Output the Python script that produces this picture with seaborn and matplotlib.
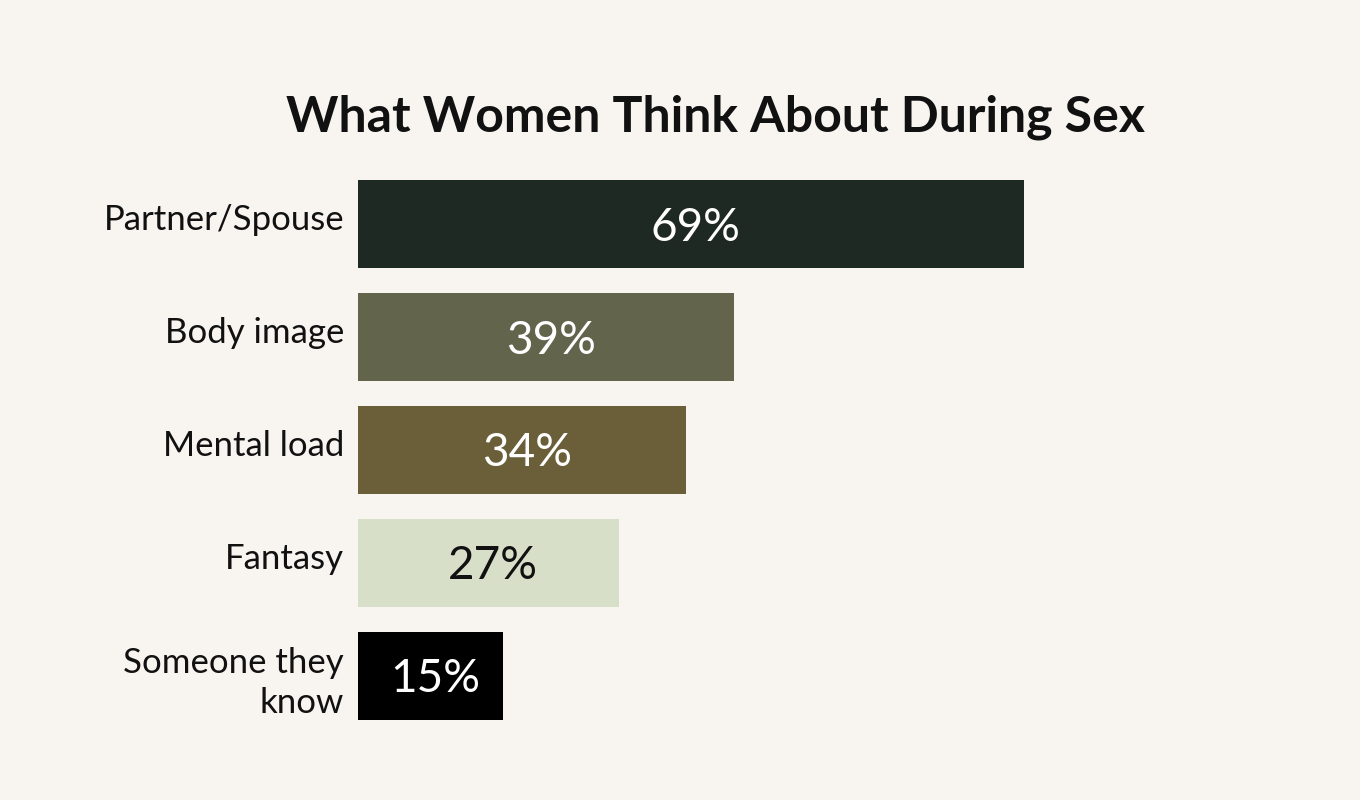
import pandas as pd
import matplotlib
matplotlib.use('Agg')
import matplotlib.pyplot as plt
import matplotlib.transforms as mtransforms
import seaborn as sns

# Données
categories = ['Partner/Spouse', 'Body image', 'Mental load', 'Fantasy', 'Someone they\nknow']
values = [69, 39, 34, 27, 15]
bar_colors = ['#1f2924', '#63644c', '#6b5f3a', '#d8dfc8', '#000000']
label_colors = ['white', 'white', 'white', '#111111', 'white']

df = pd.DataFrame({'Category': categories, 'Value': values})

bg = '#f8f5f0'
sns.set_style('white')
plt.rcParams['font.family'] = ['Lato', 'DejaVu Sans']

fig = plt.figure(figsize=(13.6, 8), dpi=100, facecolor=bg)
ax = fig.add_axes([358 / 1360, 0.0844, 965 / 1360, 0.706])
ax.set_facecolor(bg)

sns.barplot(data=df, x='Value', y='Category', hue='Category', palette=bar_colors,
            legend=False, width=0.78, saturation=1, linewidth=0, ax=ax)

ax.set_xlim(0, 100)
ax.set_ylim(4.5, -0.5)
ax.set_xticks([])
ax.set_xlabel('')
ax.set_ylabel('')
ax.tick_params(axis='y', length=0, pad=10, labelsize=25)
for lbl in ax.get_yticklabels():
    lbl.set_color('#111111')
    lbl.set_linespacing(1.3)
    # étiquettes sur une ligne un peu au-dessus du centre de la barre
    if '\n' not in lbl.get_text():
        shift = mtransforms.ScaledTranslation(0, 7 / 100, fig.dpi_scale_trans)
        lbl.set_transform(lbl.get_transform() + shift)
sns.despine(ax=ax, left=True, bottom=True)

for i, v in enumerate(values):
    ax.text(v / 2 + 0.5, i + 0.03, f'{v}%', ha='center', va='center', fontsize=33,
            color=label_colors[i])

fig.text(715 / 1360, 1 - 117 / 800, 'What Women Think About During Sex', ha='center',
         va='center', fontsize=36, fontweight='bold', color='#111111')

fig.savefig('out.png', dpi=100, facecolor=bg)
